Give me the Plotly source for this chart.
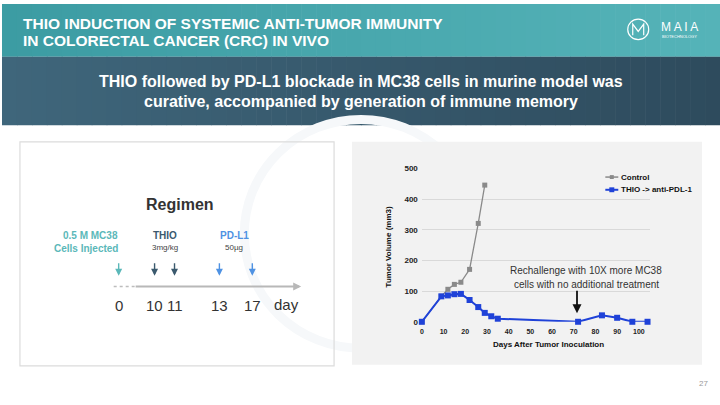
import plotly.graph_objects as go

# ── Data ──────────────────────────────────────────────────────────────────────
ctrl_days = [0, 9, 12, 15, 18, 22, 26, 29]
ctrl_vol  = [0, 83, 106, 122, 129, 171, 321, 446]

thio_days = [0, 9, 12, 15, 18, 22, 26, 29, 32, 35, 72, 83, 90, 97, 104]
thio_vol  = [0, 83, 86, 90, 91, 71, 48, 29, 18, 10, 0, 21, 13, 0, 0]

regimen_days = ["0", "10", "11", "13", "17"]
regimen_kind = ["cells", "thio", "thio", "pdl1", "pdl1"]

# ── Page geometry / colours ───────────────────────────────────────────────────
W, H = 720, 405
FONT  = "Liberation Sans, Arial, sans-serif"
TEAL  = "#5bb8b9"
SLATE = "#3b5a6e"
PDL1  = "#4f92e3"
GRAYL = "#8a8a8a"
BLUEL = "#1f42d8"
PANEL = "#f2f2f2"
GRID  = "#d9d9d9"


def X(px):
    return px / W


def Y(py):
    return 1 - py / H


def mix(c1, c2, t):
    a = [int(c1[i:i + 2], 16) for i in (1, 3, 5)]
    b = [int(c2[i:i + 2], 16) for i in (1, 3, 5)]
    return "#" + "".join(f"{round(a[k] + (b[k] - a[k]) * t):02x}" for k in range(3))


shapes = []
annotations = []


def txt(px, py, text, size, color, bold=False, xanchor="center", **kw):
    f = dict(family=FONT, size=size, color=color)
    if bold:
        f["weight"] = "bold"
    annotations.append(dict(x=X(px), y=Y(py), xref="paper", yref="paper", showarrow=False,
                            xanchor=xanchor, yanchor="middle", text=text, font=f, **kw))


def arrow(px, py, ax, ay, color, width, head=2, size=1.0):
    annotations.append(dict(x=X(px), y=Y(py), ax=ax, ay=ay, xref="paper", yref="paper",
                            text="", showarrow=True, arrowhead=head, arrowsize=size,
                            arrowwidth=width, arrowcolor=color))


# ── Header bands (horizontal gradient built from thin strips) ────────────────
N = 48
for i in range(N):
    x0, x1 = W * i / N, W * (i + 1) / N + 0.6
    shapes.append(dict(type="rect", xref="paper", yref="paper", layer="below",
                       x0=X(x0), x1=X(x1), y0=Y(54), y1=Y(0), line_width=0,
                       fillcolor=mix("#3c9ca3", "#55b3b8", i / (N - 1))))
    shapes.append(dict(type="rect", xref="paper", yref="paper", layer="below",
                       x0=X(x0), x1=X(x1), y0=Y(124), y1=Y(54), line_width=0,
                       fillcolor=mix("#3f667b", "#2e4b5d", i / (N - 1))))

# faint watermark circle
shapes.append(dict(type="circle", xref="paper", yref="paper", layer="below",
                   x0=X(243), x1=X(477), y0=Y(352), y1=Y(118),
                   line=dict(color="#f6f8fa", width=9)))

# left regimen card
shapes.append(dict(type="rect", xref="paper", yref="paper", layer="below",
                   x0=X(18), x1=X(333), y0=Y(370), y1=Y(141),
                   line=dict(color="#dcdcdc", width=1.2)))

# chart panel
shapes.append(dict(type="rect", xref="paper", yref="paper", layer="below",
                   x0=X(351), x1=X(702), y0=Y(369), y1=Y(141),
                   line_width=0, fillcolor=PANEL))

# text box hiding gridlines behind the rechallenge note
shapes.append(dict(type="rect", xref="paper", yref="paper", layer="between",
                   x0=X(472), x1=X(700), y0=Y(291), y1=Y(241),
                   line_width=0, fillcolor=PANEL))

# logo
shapes.append(dict(type="circle", xref="paper", yref="paper",
                   x0=X(627.5), x1=X(648.5), y0=Y(36.5), y1=Y(15.5),
                   line=dict(color="white", width=1.2)))
shapes.append(dict(type="path", xref="paper", yref="paper",
                   path=(f"M {X(632.5)} {Y(32)} L {X(632.5)} {Y(20.5)} L {X(638)} {Y(28)} "
                         f"L {X(643.5)} {Y(20.5)} L {X(643.5)} {Y(32)}"),
                   line=dict(color="white", width=1.2)))

# ── Header text ───────────────────────────────────────────────────────────────
txt(19, 19.5, "THIO INDUCTION OF SYSTEMIC ANTI-TUMOR IMMUNITY", 15.5, "white", True, "left")
txt(19, 37, "IN COLORECTAL CANCER (CRC) IN VIVO", 15.5, "white", True, "left")
txt(679.5, 24, "M A I A", 12, "white")
txt(679.5, 33, "BIOTECHNOLOGY", 4, "white")

txt(360, 79, "THIO followed by PD-L1 blockade in MC38 cells in murine model was", 16, "white", True)
txt(360, 100, "curative, accompanied by generation of immune memory", 16, "white", True)

# ── Regimen diagram ───────────────────────────────────────────────────────────
txt(178, 205, "Regimen", 16, "#333333", True)
txt(118, 237, "0.5 M MC38", 10, TEAL, True, "right")
txt(118, 250, "Cells Injected", 10, TEAL, True, "right")
txt(163, 237, "THIO", 10, SLATE, True)
txt(163, 249, "3mg/kg", 8, "#444444")
txt(233, 237, "PD-L1", 10, PDL1, True)
txt(233, 249, "50\u00b5g", 8, "#444444")

# timeline
shapes.append(dict(type="line", xref="paper", yref="paper",
                   x0=X(112), x1=X(133), y0=Y(289), y1=Y(289),
                   line=dict(color="#bdbdbd", width=1.5, dash="dot")))
arrow(300, 289, -167, 0, "#b8b8b8", 2, size=0.8)

tick_x = [117, 153, 173, 218, 251]
kind_col = {"cells": TEAL, "thio": SLATE, "pdl1": PDL1}
for lab, kind, px in zip(regimen_days, regimen_kind, tick_x):
    arrow(px, 278, 0, -14, kind_col[kind], 1.4)
    txt(px, 308, lab, 15, "#333333")
txt(285, 307, "day", 15, "#333333")

# ── Chart ─────────────────────────────────────────────────────────────────────
fig = go.Figure()
fig.add_trace(go.Scatter(x=ctrl_days, y=ctrl_vol, mode="lines+markers", name="Control",
                         line=dict(color=GRAYL, width=1.3),
                         marker=dict(symbol="square", size=5, color=GRAYL),
                         cliponaxis=False, showlegend=False))
fig.add_trace(go.Scatter(x=thio_days, y=thio_vol, mode="lines+markers", name="THIO -> anti-PDL-1",
                         line=dict(color=BLUEL, width=2),
                         marker=dict(symbol="square", size=6, color=BLUEL),
                         cliponaxis=False, showlegend=False))

# legend (drawn by hand: short Excel-style samples)
for name, col, py, ms in [("Control", GRAYL, 177, 4), ("THIO -> anti-PDL-1", BLUEL, 190, 5)]:
    shapes.append(dict(type="line", xref="paper", yref="paper",
                       x0=X(605), x1=X(618), y0=Y(py), y1=Y(py),
                       line=dict(color=col, width=1.5 if ms == 4 else 2)))
    shapes.append(dict(type="rect", xref="paper", yref="paper",
                       x0=X(611.5 - ms / 2), x1=X(611.5 + ms / 2),
                       y0=Y(py + ms / 2), y1=Y(py - ms / 2),
                       line_width=0, fillcolor=col))
    txt(619, py, name, 8, "#111111", True, "left")

# axis titles
txt(548, 348, "Days After Tumor Inoculation", 8, "#111111", True)
txt(388, 248, "Tumor Volume (mm3)", 8, "#111111", True, textangle=-90)

# rechallenge note + arrow
txt(586, 273, "Rechallenge with 10X more MC38", 10, "#333333")
txt(586, 287, "cells with no additional treatment", 10, "#333333")
annotations.append(dict(x=71.5, y=28, xref="x", yref="y", ax=0, ay=-24,
                        text="", showarrow=True, arrowhead=2, arrowsize=1,
                        arrowwidth=1.8, arrowcolor="#111111"))

# page number
txt(703, 388, "27", 8, "#9a9a9a")

fig.update_xaxes(domain=[X(421), X(649.5)], range=[0, 105], dtick=10,
                 showgrid=False, zeroline=False, showline=False, ticks="",
                 ticklabelstandoff=4,
                 tickfont=dict(family=FONT, size=7, color="#222222", weight="bold"))
fig.update_yaxes(domain=[Y(325), Y(168.3)], range=[0, 500], dtick=100,
                 showgrid=True, gridcolor=GRID, gridwidth=1, zeroline=False,
                 showline=False, ticks="", ticklabelstandoff=3,
                 tickfont=dict(family=FONT, size=8, color="#222222", weight="bold"))

fig.update_layout(
    width=W, height=H,
    margin=dict(l=0, r=0, t=0, b=0),
    paper_bgcolor="white", plot_bgcolor="rgba(0,0,0,0)",
    font=dict(family=FONT),
    shapes=shapes, annotations=annotations,
    showlegend=False,
)

fig.write_html("out.html", config={"displayModeBar": False},
               post_script="document.body.style.margin='0';")
